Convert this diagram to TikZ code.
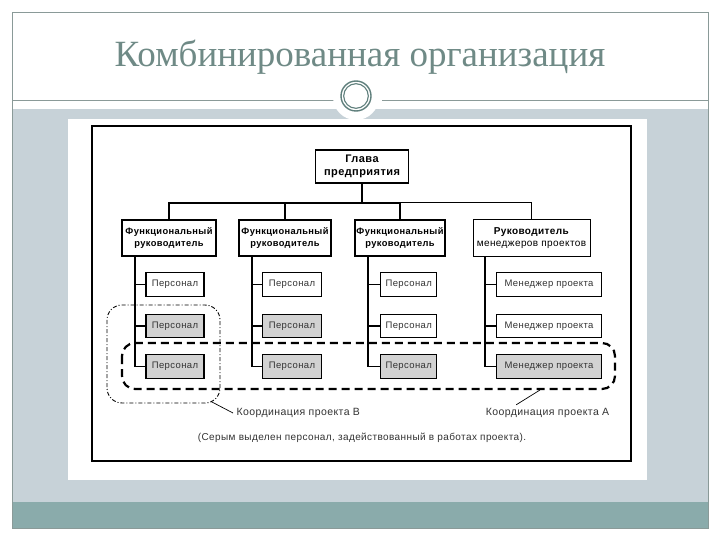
\documentclass[tikz,border=0pt]{standalone}
\usepackage{fontspec}
\setmainfont{Liberation Sans}
\newfontfamily\diagfont[LetterSpace=4]{Liberation Sans}
\newfontfamily\titlefont{Liberation Serif}
\definecolor{framecol}{HTML}{8A9A98}
\definecolor{bandgrey}{HTML}{C7D2D8}
\definecolor{bandteal}{HTML}{8AABAB}
\definecolor{titlecol}{HTML}{6F8A86}
\definecolor{ringcol}{HTML}{5F7F7C}
\definecolor{staffgrey}{HTML}{D2D2D2}
\definecolor{txtgrey}{HTML}{333333}
\tikzset{
  headbox/.style={draw=black, line width=1.6pt, fill=white, align=center, inner sep=0pt,
    font=\diagfont\fontsize{9.3}{11.5}\selectfont\bfseries},
  staffbox/.style={draw=black, line width=1.4pt, fill=white, inner sep=0pt, minimum height=23.5pt,
    text=txtgrey, font=\diagfont\fontsize{9.5}{11}\selectfont},
  graystaff/.style={staffbox, fill=staffgrey},
  conn/.style={line width=1.3pt},
  lbl/.style={text=txtgrey, font=\diagfont\fontsize{10.5}{12}\selectfont},
}
\begin{document}
\begin{tikzpicture}[x=1pt,y=-1pt]
\useasboundingbox (0,0) rectangle (720,540);
\fill[white] (0,0) rectangle (720,540);
% slide background
\fill[bandgrey] (12,109) rectangle (708,502);
\fill[bandteal] (12,502) rectangle (708,528);
\draw[framecol, line width=0.9pt] (12,12) rectangle (708,528);
\draw[framecol, line width=0.9pt] (12,100) -- (337,100);
\draw[framecol, line width=0.9pt] (382,100) -- (708,100);
\fill[white] (356,97) circle (23);
\draw[ringcol, line width=1.4pt] (356,96) circle (15);
\draw[ringcol, line width=1.1pt] (356,96) circle (12.3);
\node[titlecol, font=\titlefont\fontsize{37}{40}\selectfont] (title) at (360,57) {Комбинированная организация};
% picture area
\fill[white] (68,119) rectangle (647,480);
\draw[black, line width=1.5pt] (92,126) rectangle (631,461);
% head
\node[headbox, minimum width=93pt, minimum height=33pt, font=\diagfont\fontsize{11}{13}\selectfont\bfseries] (head) at (362,166.5) {Глава\\предприятия};
% level 2
\node[headbox, minimum width=94pt, minimum height=36pt] (l1) at (169,238) {Функциональный\\руководитель};
\node[headbox, minimum width=92pt, minimum height=36pt] (l2) at (285,238) {Функциональный\\руководитель};
\node[headbox, minimum width=90pt, minimum height=36pt] (l3) at (400,238) {Функциональный\\руководитель};
\node[headbox, line width=1pt, minimum width=117pt, minimum height=36pt, font=\diagfont\fontsize{10}{11.8}\selectfont] (l4) at (531.5,238) {\textbf{Руководитель}\\менеджеров проектов};
\coordinate (bus) at (362,203);
\draw[conn] (head.south) -- (bus);
\draw[conn] (l1.north) |- (bus) -| (l3.north);
\draw[conn] (l2.north) -- (l2.north |- bus);
\draw[line width=1pt] (l3.north |- bus) -| (l4.north);
% staff
\node[staffbox, minimum width=58pt] (p11) at (175,284.5) {Персонал};
\node[graystaff, minimum width=58pt] (p12) at (175,326) {Персонал};
\node[graystaff, minimum width=58pt] (p13) at (175,366.5) {Персонал};
\node[staffbox, minimum width=58.5pt] (p21) at (292,284.5) {Персонал};
\node[graystaff, minimum width=58.5pt] (p22) at (292,326) {Персонал};
\node[graystaff, minimum width=58.5pt] (p23) at (292,366.5) {Персонал};
\node[staffbox, minimum width=56pt] (p31) at (408.7,284.5) {Персонал};
\node[staffbox, minimum width=56pt] (p32) at (408.7,326) {Персонал};
\node[graystaff, minimum width=56pt] (p33) at (408.7,366.5) {Персонал};
\node[staffbox, minimum width=105pt] (p41) at (549,284.5) {Менеджер проекта};
\node[staffbox, minimum width=105pt] (p42) at (549,326) {Менеджер проекта};
\node[graystaff, minimum width=105pt] (p43) at (549,366.5) {Менеджер проекта};
% trunks
\coordinate (t1) at (135,0);
\coordinate (t2) at (252,0);
\coordinate (t3) at (368,0);
\coordinate (t4) at (485,0);
\draw[conn] (t1 |- l1.south) -- (t1 |- p13.west) -- (p13.west);
\draw[conn] (t1 |- p11.west) -- (p11.west);
\draw[conn] (t1 |- p12.west) -- (p12.west);
\draw[conn] (t2 |- l2.south) -- (t2 |- p23.west) -- (p23.west);
\draw[conn] (t2 |- p21.west) -- (p21.west);
\draw[conn] (t2 |- p22.west) -- (p22.west);
\draw[conn] (t3 |- l3.south) -- (t3 |- p33.west) -- (p33.west);
\draw[conn] (t3 |- p31.west) -- (p31.west);
\draw[conn] (t3 |- p32.west) -- (p32.west);
\draw[conn] (t4 |- l4.south) -- (t4 |- p43.west) -- (p43.west);
\draw[conn] (t4 |- p41.west) -- (p41.west);
\draw[conn] (t4 |- p42.west) -- (p42.west);
% project A
\draw[line width=2.2pt, dash pattern=on 8pt off 5pt, rounded corners=13pt] (122,343) rectangle (615,389);
% project B
\draw[line width=0.9pt, dash pattern=on 4pt off 2pt on 1pt off 2pt, rounded corners=15pt] (107,305) rectangle (220,403);
% labels
\node[lbl, anchor=west] (lblB) at (233,413) {Координация проекта В};
\coordinate (bB) at (211,401.5);
\draw[line width=0.7pt] (bB) -- (lblB.west);
\node[lbl] (lblA) at (547.5,413) {Координация проекта А};
\coordinate (aA) at (540,390);
\draw[line width=0.7pt] ([xshift=34pt]lblA.north west) -- (aA);
\node[lbl, font=\diagfont\fontsize{10}{12}\selectfont] (cap) at (362,438) {(Серым выделен персонал, задействованный в работах проекта).};
\end{tikzpicture}
\end{document}
